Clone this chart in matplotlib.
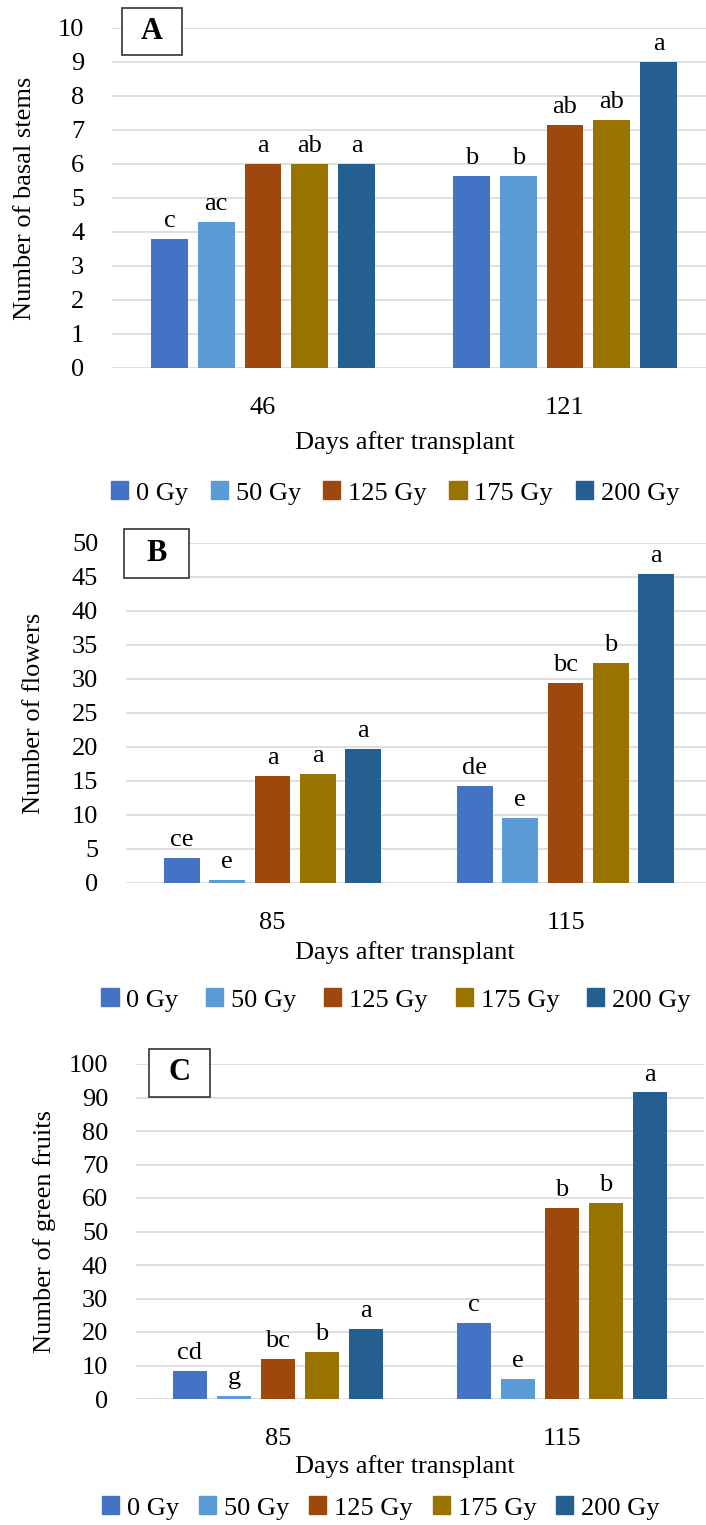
import matplotlib
matplotlib.use("Agg")
import matplotlib.pyplot as plt
from matplotlib.patches import Patch, Rectangle
import numpy as np

plt.rcParams['font.family'] = ['Liberation Serif', 'DejaVu Serif']

doses = ['0 Gy', '50 Gy', '125 Gy', '175 Gy', '200 Gy']
colors = ['#4472C4', '#5B9BD5', '#9E480E', '#997300', '#255E91']

# panel A: basal stems
days_a = ['46', '121']
stems = [[3.8, 5.65], [4.3, 5.65], [6.0, 7.15], [6.0, 7.3], [6.0, 9.0]]
stems_letters = [['c', 'b'], ['ac', 'b'], ['a', 'ab'], ['ab', 'ab'], ['a', 'a']]

# panel B: flowers
days_b = ['85', '115']
flowers = [[3.7, 14.2], [0.5, 9.5], [15.7, 29.4], [16.0, 32.4], [19.7, 45.5]]
flowers_letters = [['ce', 'de'], ['e', 'e'], ['a', 'bc'], ['a', 'b'], ['a', 'a']]

# panel C: green fruits
days_c = ['85', '115']
fruits = [[8.5, 22.8], [1.0, 6.0], [12.0, 57.0], [14.0, 58.5], [20.8, 91.5]]
fruits_letters = [['cd', 'c'], ['g', 'e'], ['bc', 'b'], ['b', 'b'], ['a', 'a']]

W, H = 706, 1525
FS = 19


def px_box(left, zero_y, right, top_y):
    """axes rectangle from pixel coordinates"""
    return [left / W, 1 - zero_y / H, (right - left) / W, (zero_y - top_y) / H]


def draw_panel(fig, box, days, values, letters, ymax, step, ylabel, tag,
               tag_box, ylabel_x, xlabel_y, legend_xy, col_space):
    ax = fig.add_axes(box)
    x = np.arange(len(days))
    pitch = 0.155
    width = 0.122
    for i, (vals, lets) in enumerate(zip(values, letters)):
        pos = x + (i - 2) * pitch
        bars = ax.bar(pos, vals, width, color=colors[i], zorder=2)
        for b, lab in zip(bars, lets):
            ax.annotate(lab, (b.get_x() + b.get_width() / 2, b.get_height()),
                        xytext=(0, 5), textcoords='offset points',
                        ha='center', va='bottom', fontsize=FS)
    ax.set_xlim(-0.5, len(days) - 0.5)
    ax.set_ylim(0, ymax)
    ax.set_yticks(np.arange(0, ymax + step / 2, step))
    ax.set_xticks(x)
    ax.set_xticklabels(days)
    ax.yaxis.grid(True, color='#D9D9D9', lw=1.2, zorder=0)
    ax.set_axisbelow(True)
    for s in ax.spines.values():
        s.set_visible(False)
    ax.tick_params(axis='both', length=0, labelsize=FS)
    ax.tick_params(axis='y', pad=20)
    ax.tick_params(axis='x', pad=21)

    fig.text(ylabel_x / W, box[1] + box[3] / 2, ylabel, rotation=90,
             ha='center', va='center', fontsize=FS)
    fig.text(405 / W, 1 - xlabel_y / H, 'Days after transplant',
             ha='center', va='center', fontsize=FS)

    # boxed panel letter
    x0, y0, x1, y1 = tag_box
    fig.patches.append(Rectangle((x0 / W, 1 - y1 / H), (x1 - x0) / W,
                                 (y1 - y0) / H, transform=fig.transFigure,
                                 fc='white', ec='#333333', lw=1.2))
    fig.text((x0 + x1) / 2 / W, 1 - (y0 + y1) / 2 / H, tag, ha='center',
             va='center', fontsize=22, fontweight='bold')

    handles = [Patch(color=c) for c in colors]
    fig.legend(handles, doses, loc='center', ncol=5, frameon=False,
               bbox_to_anchor=(legend_xy[0] / W, 1 - legend_xy[1] / H),
               fontsize=FS, handlelength=0.65, handleheight=0.65,
               handletextpad=0.3, columnspacing=col_space)
    return ax


fig = plt.figure(figsize=(W / 100, H / 100), dpi=100)

draw_panel(fig, px_box(112, 368, 716, 28), days_a, stems, stems_letters,
           10, 1, 'Number of basal stems', 'A', (122, 8, 182, 55), 25, 443,
           (395, 493), 0.85)
draw_panel(fig, px_box(126, 883, 712, 543), days_b, flowers, flowers_letters,
           50, 5, 'Number of flowers', 'B', (124, 529, 189, 578), 34, 953,
           (396, 1000), 1.05)
draw_panel(fig, px_box(136, 1399, 704, 1064), days_c, fruits, fruits_letters,
           100, 10, 'Number of green fruits', 'C', (149, 1049, 210, 1097), 45,
           1467, (381, 1508), 0.75)

fig.savefig('out.png', dpi=100)
